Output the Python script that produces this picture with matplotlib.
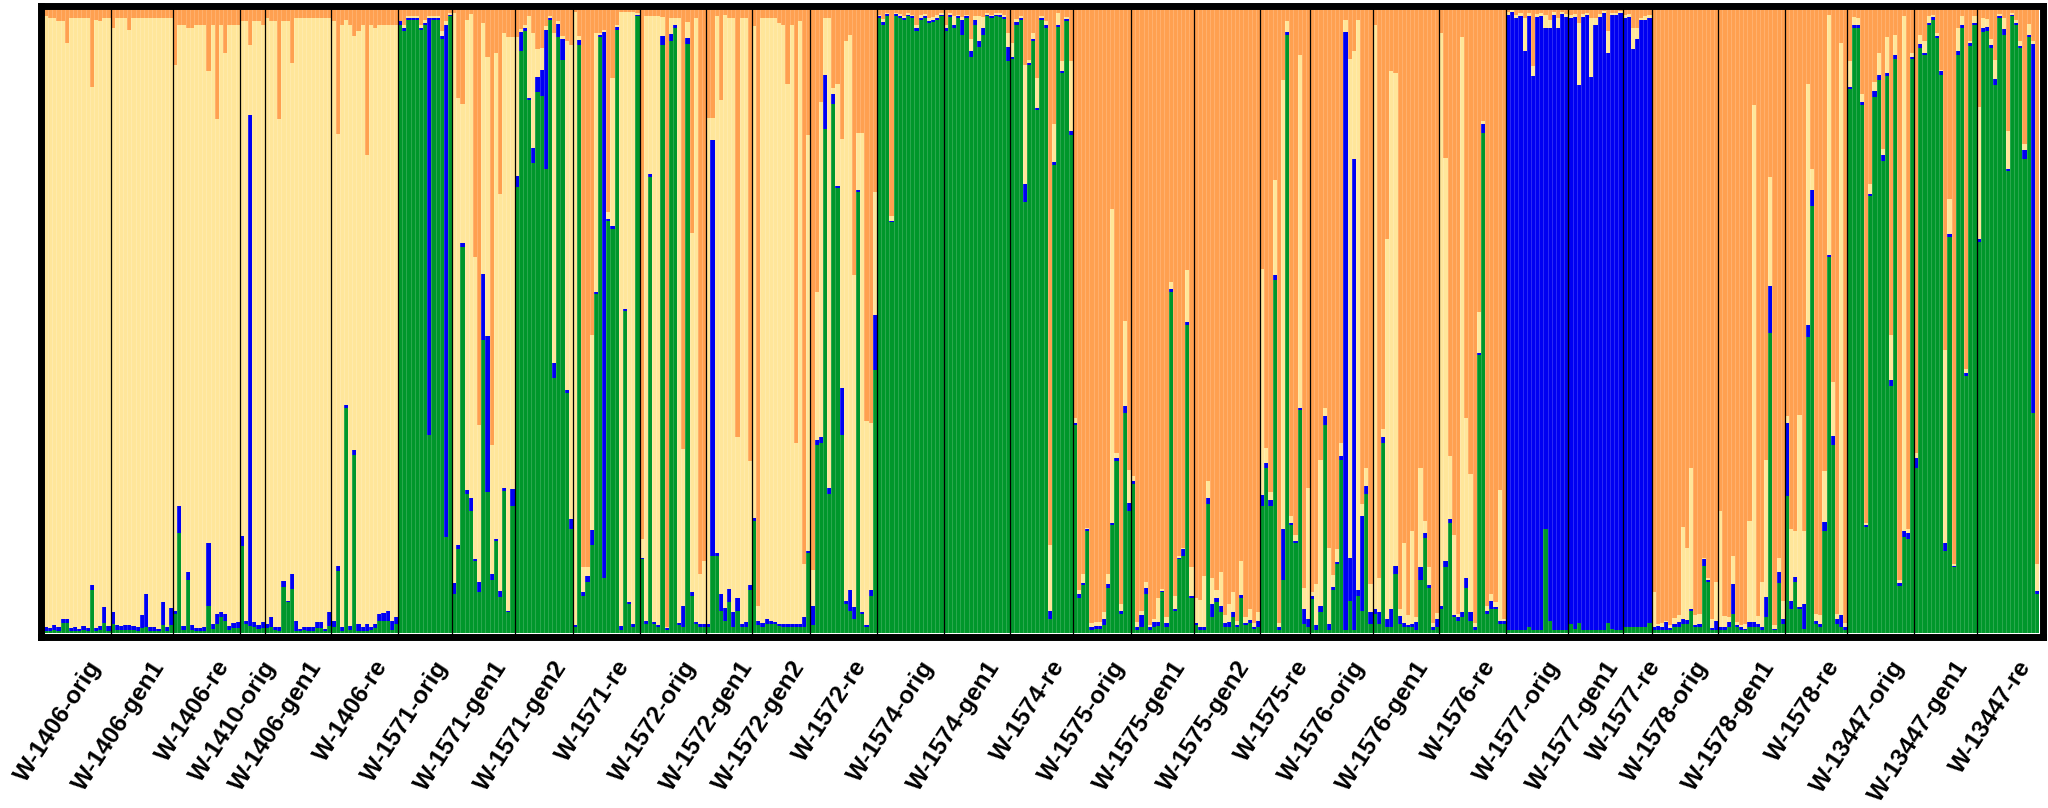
import matplotlib.pyplot as plt
import numpy as np
from matplotlib.transforms import ScaledTranslation

# ancestry proportions per individual (green, blue, yellow) in %; orange is the rest
w1406_orig = [(0.3, 0.6, 98.0), (0.3, 0.5, 97.8), (0.5, 0.8, 97.3), (0.4, 0.6, 97.0),
              (1.6, 0.7, 95.7), (1.6, 0.7, 92.2), (0.3, 0.5, 97.7), (0.4, 0.5, 97.6),
              (0.3, 0.4, 97.8), (0.5, 0.6, 97.4), (0.4, 0.4, 97.7), (6.9, 0.8, 79.8),
              (0.3, 0.5, 97.4), (0.5, 0.6, 97.0), (1.6, 2.5, 94.4), (0.4, 0.8, 97.3)]
w1406_gen1_a = [(1.5, 1.8, 93.7), (0.5, 0.8, 97.2), (0.5, 0.7, 97.3), (0.5, 0.8, 97.2),
                (0.5, 0.8, 95.3), (0.5, 0.7, 97.3), (0.3, 0.6, 97.6), (0.8, 2.1, 95.6),
                (1.0, 5.2, 92.3), (0.4, 0.5, 97.6), (0.4, 0.6, 97.5), (0.3, 0.4, 97.8),
                (1.3, 3.6, 93.6), (0.4, 0.6, 97.5), (1.3, 2.7, 94.5)]
w1406_re_a = [(3.0, 0.6, 87.4), (16.0, 4.3, 77.2), (0.5, 0.7, 96.3), (8.5, 1.3, 87.2),
              (0.5, 0.8, 95.7), (0.3, 0.5, 96.7), (0.3, 0.5, 96.7), (0.4, 0.5, 96.6),
              (4.3, 10.2, 75.5), (0.7, 0.8, 96.0), (1.5, 1.5, 79.3), (2.5, 0.8, 94.2),
              (2.0, 1.0, 90.0), (0.5, 0.6, 96.4), (0.8, 0.8, 95.9), (0.8, 1.0, 95.7)]
w1410_orig = [(14.0, 1.6, 82.4), (1.5, 0.5, 96.0), (1.2, 81.8, 11.2), (1.0, 0.8, 96.2),
              (0.7, 0.6, 96.7), (0.8, 1.0, 95.6)]
w1406_gen1_b = [(0.8, 0.7, 97.0), (1.0, 1.5, 95.5), (0.5, 0.5, 97.0), (0.4, 0.5, 81.4),
                (7.4, 0.9, 89.7), (4.9, 0.3, 92.8), (7.0, 2.5, 81.8), (0.4, 1.6, 96.5),
                (0.3, 0.4, 97.8), (0.5, 0.5, 97.5), (0.4, 0.5, 97.6), (0.4, 0.5, 97.6),
                (0.8, 1.0, 96.7), (0.8, 1.0, 96.7), (0.3, 0.4, 97.8), (1.2, 2.1, 95.2)]
w1406_re_b = [(0.9, 1.0, 96.1), (10.0, 0.8, 69.2), (0.4, 0.6, 96.5), (36.0, 0.5, 61.7),
              (0.5, 0.6, 96.4), (28.5, 0.8, 66.3), (0.4, 1.0, 95.1), (0.4, 0.5, 96.6),
              (0.4, 1.0, 75.2), (0.5, 0.5, 96.5), (0.8, 0.7, 95.5), (2.0, 1.0, 94.5),
              (2.0, 1.2, 94.3), (2.0, 1.5, 94.0), (0.5, 1.5, 95.5), (1.5, 1.0, 95.0)]
w1571_orig = [(97.4, 0.6, 0.0), (96.5, 0.4, 0.5), (98.2, 0.3, 0.3), (98.3, 0.3, 0.3),
              (98.2, 0.3, 0.3), (96.7, 0.3, 0.5), (97.4, 0.4, 0.4), (31.7, 66.8, 0.3),
              (98.3, 0.3, 0.3), (98.2, 0.3, 0.3), (95.2, 0.4, 0.8), (15.4, 82.0, 0.6),
              (98.8, 0.3, 0.2)]
w1571_gen1 = [(6.2, 1.8, 91.3), (13.4, 0.7, 71.6), (61.8, 0.7, 22.3), (22.3, 0.6, 75.3),
              (19.6, 2.0, 77.6), (11.5, 0.4, 48.3), (6.5, 1.7, 25.2), (47.0, 10.6, 40.2),
              (22.6, 25.0, 44.7), (8.5, 1.0, 20.6), (14.7, 0.3, 77.9), (5.8, 0.9, 63.7),
              (22.8, 0.4, 73.0), (3.3, 0.3, 91.9), (20.3, 2.7, 72.5)]
w1571_gen2 = [(71.5, 1.8, 22.2), (93.3, 3.0, 0.5), (96.5, 0.5, 0.5), (85.4, 0.3, 13.1),
              (75.3, 2.4, 18.5), (86.7, 2.4, 4.5), (86.0, 4.2, 3.5), (74.3, 22.4, 0.5),
              (98.2, 0.3, 0.3), (40.9, 2.4, 52.9), (95.5, 2.1, 0.5), (91.8, 3.4, 0.5),
              (38.5, 0.4, 56.0), (16.7, 1.5, 76.0)]
w1571_re = [(1.0, 0.3, 98.2), (94.2, 0.9, 0.5), (6.0, 0.5, 4.0), (8.2, 1.0, 1.3),
            (14.1, 2.4, 31.3), (54.3, 0.3, 41.6), (95.5, 0.3, 0.3), (8.8, 87.5, 0.3),
            (66.1, 0.3, 1.0), (64.8, 0.4, 23.8), (96.7, 0.4, 0.3), (0.5, 0.7, 98.3),
            (51.6, 0.3, 47.6), (4.7, 0.3, 94.5), (1.0, 0.4, 98.1), (98.8, 0.3, 0.2)]
w1572_orig = [(11.8, 0.3, 3.0), (1.5, 0.5, 96.8), (73.0, 0.6, 25.2), (1.5, 0.3, 97.0),
              (1.0, 0.3, 97.5), (94.2, 1.5, 3.0), (0.5, 0.3, 0.2), (94.9, 1.1, 2.5),
              (96.9, 0.6, 1.0), (1.3, 0.3, 97.0), (1.0, 3.3, 25.2), (94.4, 1.0, 2.5),
              (5.9, 0.6, 57.6), (1.4, 0.3, 96.8), (1.0, 0.5, 8.0), (1.0, 0.5, 10.0)]
w1572_gen1 = [(1.0, 0.5, 81.0), (12.4, 66.6, 3.5), (12.4, 0.4, 86.0), (3.6, 2.6, 79.2),
              (2.0, 2.0, 95.0), (4.9, 2.1, 91.5), (1.0, 2.3, 95.2), (3.5, 2.1, 25.8),
              (1.0, 0.5, 97.0), (1.0, 0.7, 96.8), (6.9, 0.8, 19.8)]
w1572_gen2 = [(18.0, 0.4, 78.8), (1.3, 0.7, 2.3), (1.0, 0.6, 96.9), (1.5, 0.8, 96.2),
              (1.5, 0.5, 96.5), (1.5, 0.3, 96.7), (1.2, 0.3, 96.3), (1.0, 0.4, 96.1),
              (1.0, 0.4, 86.6), (1.0, 0.5, 96.0), (1.0, 0.4, 29.0), (1.0, 0.5, 96.5),
              (1.0, 1.5, 8.5), (12.8, 0.4, 66.6)]
w1572_re = [(1.3, 3.0, 5.8), (30.1, 0.8, 23.7), (30.4, 1.0, 53.7), (80.8, 8.7, 9.0),
            (22.3, 0.9, 75.3), (84.8, 1.5, 1.1), (71.3, 0.3, 16.4), (31.7, 7.6, 39.9),
            (4.6, 0.6, 89.7), (3.6, 3.3, 89.0), (2.3, 1.8, 53.2), (70.7, 0.3, 9.2),
            (3.0, 0.3, 76.9), (1.0, 0.3, 32.7), (5.9, 1.0, 26.8), (42.2, 8.8, 19.7)]
w1574_orig = [(98.5, 0.3, 0.3), (97.5, 0.4, 0.5), (98.9, 0.3, 0.2), (65.8, 0.3, 0.7),
              (98.9, 0.3, 0.2), (98.6, 0.3, 0.3), (98.2, 0.3, 0.4), (98.8, 0.3, 0.2),
              (98.5, 0.3, 0.3), (96.4, 0.6, 0.5), (98.3, 0.3, 0.4), (98.6, 0.3, 0.3),
              (97.7, 0.3, 0.5), (97.9, 0.4, 0.4), (98.3, 0.3, 0.4), (98.8, 0.3, 0.2)]
w1574_gen1 = [(96.5, 0.5, 0.5), (98.7, 0.3, 0.3), (96.9, 0.5, 1.5), (98.5, 0.3, 0.3),
              (95.9, 2.3, 0.5), (98.5, 0.3, 0.3), (92.3, 1.0, 1.9), (97.4, 0.9, 0.5),
              (93.9, 1.0, 4.0), (95.9, 1.0, 1.8), (98.8, 0.3, 0.2), (98.5, 0.3, 0.3),
              (98.8, 0.3, 0.2), (98.7, 0.3, 0.3), (98.4, 0.3, 0.4), (91.6, 2.3, 2.3)]
w1574_re = [(92.0, 0.3, 2.3), (97.4, 0.5, 0.5), (98.2, 0.3, 0.3), (69.0, 2.9, 19.1),
            (91.1, 0.3, 0.5), (94.9, 0.3, 1.0), (83.8, 0.3, 4.9), (98.2, 0.3, 0.3),
            (96.9, 0.6, 0.5), (2.3, 1.3, 10.5), (75.0, 0.5, 6.0), (97.1, 0.4, 1.8),
            (89.7, 0.3, 1.6), (98.0, 0.4, 0.3), (79.8, 0.6, 11.2)]
w1575_orig = [(33.4, 0.3, 0.7), (5.6, 0.6, 0.7), (7.7, 0.3, 1.5), (16.4, 0.2, 0.2),
              (0.5, 0.5, 0.6), (0.6, 0.5, 0.7), (0.6, 0.5, 0.7), (1.3, 1.0, 1.0),
              (7.2, 0.6, 1.7), (17.3, 0.3, 50.4), (27.5, 0.5, 0.9), (3.0, 0.5, 1.2),
              (35.3, 1.0, 13.7), (19.6, 1.2, 5.4)]
w1575_gen1 = [(23.9, 0.4, 0.9), (0.5, 0.5, 0.8), (1.0, 1.9, 0.6), (6.2, 1.0, 1.0),
              (0.5, 0.5, 0.3), (1.0, 0.8, 0.5), (1.2, 0.5, 3.9), (6.5, 0.3, 0.3),
              (1.0, 0.6, 1.0), (54.6, 0.6, 1.1), (3.6, 0.3, 2.0), (11.8, 0.3, 0.3),
              (12.4, 1.0, 0.3), (49.4, 0.5, 8.3), (5.6, 0.3, 4.6)]
w1575_gen2 = [(1.3, 0.3, 4.0), (0.5, 0.5, 4.3), (0.5, 0.5, 8.2), (20.6, 1.0, 2.7),
              (2.6, 2.0, 4.2), (4.9, 0.7, 1.3), (3.3, 1.0, 5.5), (1.0, 0.6, 1.3),
              (1.0, 0.8, 2.8), (2.6, 0.8, 3.1), (1.0, 0.3, 0.7), (5.6, 0.5, 5.4),
              (1.3, 0.3, 1.0), (1.6, 0.5, 1.8), (0.6, 0.3, 0.7), (1.0, 1.0, 1.3)]
w1575_re = [(20.3, 1.8, 36.3), (26.5, 0.7, 2.4), (20.3, 1.0, 1.3), (56.6, 0.7, 15.3),
            (0.5, 0.5, 0.6), (8.5, 8.2, 72.0), (95.9, 0.4, 1.7), (17.3, 0.3, 1.1),
            (14.4, 0.3, 1.0), (35.7, 0.4, 56.5), (1.5, 2.4, 3.3), (1.0, 1.3, 20.9)]
w1576_orig = [(5.4, 0.6, 0.5), (0.5, 0.8, 6.6), (3.3, 1.0, 23.5), (33.4, 1.4, 1.3),
              (0.5, 1.0, 12.2), (6.9, 0.4, 2.0), (11.1, 0.3, 2.0), (27.8, 0.5, 2.1),
              (0.5, 95.8, 2.0), (5.2, 6.9, 79.9), (0.5, 75.5, 17.3), (5.9, 1.0, 91.3),
              (3.6, 15.1, 1.9), (22.3, 1.3, 2.9), (1.5, 1.8, 4.6)]
w1576_gen1 = [(3.0, 0.8, 93.7), (1.5, 1.8, 5.5), (30.4, 1.0, 1.3), (1.0, 1.3, 60.9),
              (1.0, 2.9, 86.1), (9.5, 1.3, 79.0), (1.5, 1.2, 1.2), (1.0, 0.6, 12.8),
              (1.0, 0.3, 1.6), (1.0, 0.5, 14.9), (0.5, 1.3, 0.7), (8.5, 2.0, 16.0),
              (15.2, 0.8, 2.0), (7.2, 0.5, 2.8), (0.5, 0.5, 0.6), (1.0, 1.3, 0.9)]
w1576_re = [(3.8, 0.5, 91.9), (10.5, 1.1, 64.6), (17.7, 0.6, 10.0), (2.5, 0.4, 12.8),
            (2.0, 0.5, 0.6), (2.5, 0.9, 92.1), (7.2, 1.6, 25.6), (2.0, 1.3, 22.2),
            (0.5, 0.5, 0.6), (44.5, 0.3, 6.6), (80.2, 1.3, 0.6), (3.0, 0.6, 0.7),
            (3.9, 1.2, 1.1), (3.9, 0.3, 0.7), (1.5, 0.5, 20.9), (1.5, 0.4, 0.3)]
w1577_orig = [(0.5, 98.5, 0.5), (0.5, 99.0, 0.3), (0.5, 98.0, 0.5), (0.5, 98.3, 0.5),
              (0.5, 92.8, 5.2), (1.0, 97.8, 0.5), (0.5, 88.8, 1.5), (0.5, 98.2, 0.5),
              (0.5, 98.3, 0.5), (16.7, 80.3, 2.0), (2.0, 95.0, 1.3), (0.5, 98.5, 0.5),
              (0.5, 96.5, 1.5), (0.5, 98.7, 0.3), (0.5, 98.2, 0.5)]
w1577_gen1 = [(1.5, 97.0, 0.5), (0.7, 98.0, 0.5), (1.6, 86.2, 10.0), (0.5, 98.2, 0.5),
              (0.5, 98.5, 0.3), (0.5, 88.6, 9.5), (0.5, 97.0, 1.0), (0.5, 98.2, 0.5),
              (0.5, 98.8, 0.3), (1.6, 91.3, 3.5), (0.7, 98.3, 0.3), (0.5, 98.5, 0.3),
              (0.5, 98.8, 0.3)]
w1577_re = [(1.0, 97.5, 0.5), (1.0, 97.7, 0.5), (1.0, 92.6, 3.3), (1.0, 94.2, 1.7),
            (1.0, 97.2, 0.3), (1.0, 97.3, 0.5), (1.6, 97.0, 0.5)]
w1578_orig = [(0.5, 0.5, 5.5), (0.5, 0.7, 0.3), (0.5, 0.5, 0.6), (0.5, 1.3, 0.2),
              (0.5, 0.3, 0.5), (1.0, 0.4, 1.0), (1.0, 0.7, 1.2), (1.5, 0.8, 14.7),
              (1.5, 0.6, 11.6), (3.6, 0.3, 22.6), (1.0, 0.3, 1.6), (1.0, 0.4, 1.6),
              (10.8, 1.0, 0.3), (8.2, 0.3, 0.3), (0.5, 0.3, 1.4), (0.5, 1.5, 6.2)]
w1578_gen1 = [(0.5, 0.5, 18.6), (0.5, 0.5, 1.7), (1.0, 0.8, 0.7), (3.0, 4.9, 4.5),
              (1.0, 0.3, 0.5), (0.5, 0.5, 0.3), (0.5, 0.2, 0.7), (1.0, 0.8, 16.2),
              (1.0, 0.8, 82.8), (1.0, 0.5, 1.3), (0.5, 0.5, 7.2), (2.6, 3.2, 22.0),
              (48.1, 7.5, 17.4), (0.5, 0.2, 0.6), (8.0, 1.7, 2.4), (1.5, 0.8, 2.9)]
w1578_re = [(21.9, 11.8, 1.0), (3.9, 1.2, 11.6), (8.2, 0.8, 7.4), (3.9, 0.3, 30.8),
            (0.6, 4.0, 11.8), (47.4, 2.0, 38.6), (68.4, 2.6, 3.3), (1.5, 0.5, 1.0),
            (1.0, 0.4, 1.5), (16.4, 1.4, 8.1), (60.3, 0.3, 38.4), (30.1, 1.4, 8.7),
            (1.5, 0.8, 0.7), (1.0, 1.9, 91.7), (0.5, 0.5, 0.6)]
w13447_orig = [(87.2, 0.3, 4.1), (96.9, 0.6, 1.2), (97.0, 0.5, 1.0), (84.6, 0.5, 1.3),
               (17.0, 0.3, 0.4), (70.0, 0.3, 1.7), (85.9, 1.0, 1.4), (88.7, 0.8, 3.4),
               (75.7, 0.9, 1.0), (89.3, 0.5, 5.7), (39.6, 1.0, 7.2), (92.0, 0.7, 3.2),
               (7.5, 0.5, 0.5), (15.4, 1.0, 82.4), (15.1, 0.9, 0.7), (92.0, 0.3, 0.7)]
w13447_gen1 = [(26.5, 1.6, 0.7), (93.7, 0.7, 1.5), (92.7, 0.3, 1.9), (97.5, 0.3, 1.0),
               (98.3, 0.4, 0.3), (95.4, 0.3, 0.5), (89.5, 0.5, 0.3), (13.2, 1.2, 30.9),
               (63.5, 0.5, 5.5), (10.5, 0.3, 0.2), (92.7, 0.5, 3.7), (96.9, 0.5, 1.4),
               (41.2, 0.4, 0.7), (94.1, 0.5, 0.3), (97.5, 0.3, 1.0)]
w13447_re = [(62.7, 0.4, 21.2), (96.3, 0.7, 1.6), (96.5, 0.6, 1.3), (93.7, 0.5, 1.0),
             (87.8, 1.0, 3.0), (98.6, 0.3, 0.3), (95.9, 0.9, 1.8), (74.0, 0.3, 6.2),
             (98.8, 0.3, 0.3), (97.4, 0.3, 0.5), (93.7, 0.4, 0.8), (75.9, 1.5, 1.0),
             (95.5, 0.3, 1.8), (35.3, 59.1, 0.4), (6.2, 0.5, 4.4)]

group_labels = ['W-1406-orig', 'W-1406-gen1', 'W-1406-re', 'W-1410-orig', 'W-1406-gen1',
                'W-1406-re', 'W-1571-orig', 'W-1571-gen1', 'W-1571-gen2', 'W-1571-re',
                'W-1572-orig', 'W-1572-gen1', 'W-1572-gen2', 'W-1572-re', 'W-1574-orig',
                'W-1574-gen1', 'W-1574-re', 'W-1575-orig', 'W-1575-gen1', 'W-1575-gen2',
                'W-1575-re', 'W-1576-orig', 'W-1576-gen1', 'W-1576-re', 'W-1577-orig',
                'W-1577-gen1', 'W-1577-re', 'W-1578-orig', 'W-1578-gen1', 'W-1578-re',
                'W-13447-orig', 'W-13447-gen1', 'W-13447-re']
groups = [w1406_orig, w1406_gen1_a, w1406_re_a, w1410_orig, w1406_gen1_b, w1406_re_b,
          w1571_orig, w1571_gen1, w1571_gen2, w1571_re, w1572_orig, w1572_gen1,
          w1572_gen2, w1572_re, w1574_orig, w1574_gen1, w1574_re, w1575_orig,
          w1575_gen1, w1575_gen2, w1575_re, w1576_orig, w1576_gen1, w1576_re,
          w1577_orig, w1577_gen1, w1577_re, w1578_orig, w1578_gen1, w1578_re,
          w13447_orig, w13447_gen1, w13447_re]

c_green = '#00972B'
c_blue = '#0000F2'
c_yellow = '#FFE69A'
c_orange = '#FFA050'

rows = np.array([r for g in groups for r in g]) / 100.0
green, blue, yellow = rows[:, 0], rows[:, 1], rows[:, 2]
orange = np.clip(1.0 - green - blue - yellow, 0, 1)
n = len(rows)
x = np.arange(n)
sizes = np.array([len(g) for g in groups])
ends = np.cumsum(sizes)
starts = ends - sizes

fig = plt.figure(figsize=(20.48, 8.08), dpi=100)
ax = fig.add_axes([40.5 / 2048, 1 - 636.5 / 808, 2002 / 2048, 631 / 808])

bottom = np.zeros(n)
for vals, col in [(green, c_green), (blue, c_blue), (yellow, c_yellow), (orange, c_orange)]:
    ax.bar(x, vals, width=1.0, bottom=bottom, color=col, linewidth=0, align='center')
    bottom = bottom + vals

# faint lines between individuals, black lines between groups
ax.vlines(x[:-1] + 0.5, 0, 1, color='white', alpha=0.3, linewidth=0.4)
for e in ends[:-1]:
    ax.axvline(e - 0.5, color='black', linewidth=0.9)

ax.set_xlim(-0.5 - 0.84, n - 0.5 + 0.84)
ax.set_ylim(-0.0056, 1.0056)
for s in ax.spines.values():
    s.set_linewidth(5.0)
    s.set_color('black')
ax.set_yticks([])
ax.set_xticks([])

offset = ScaledTranslation(0.24, -0.295, fig.dpi_scale_trans)
trans = ax.get_xaxis_transform() + offset
for lab, st, sz in zip(group_labels, starts, sizes):
    ax.text(st + (sz - 1) / 2.0, 0, lab, transform=trans, rotation=57,
            rotation_mode='anchor', ha='right', va='baseline',
            fontsize=17.6, fontweight='bold', family='Liberation Sans')

plt.savefig('out.png', dpi=100)
plt.close()
